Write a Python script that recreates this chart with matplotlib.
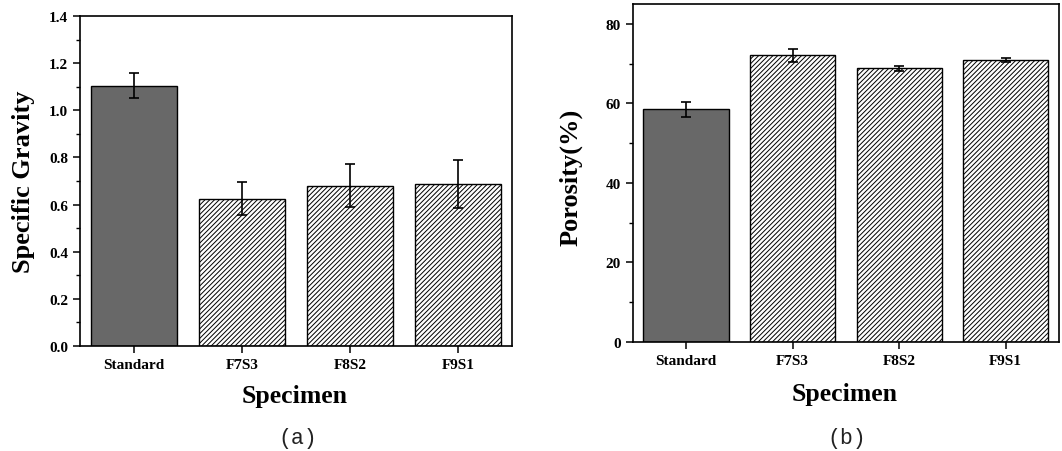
"""
Specific gravity and porosity of the specimens, two bar panels.
"""

import matplotlib

matplotlib.use("Agg")
import matplotlib.pyplot as plt
from matplotlib.ticker import MultipleLocator

specimens = ["Standard", "F7S3", "F8S2", "F9S1"]

gravity = [1.105, 0.624, 0.680, 0.688]
gravity_err = [0.053, 0.070, 0.090, 0.103]

porosity = [58.5, 72.1, 68.8, 70.9]
porosity_err = [1.95, 1.6, 0.6, 0.55]

SERIF = ["Liberation Serif", "DejaVu Serif"]
plt.rcParams["hatch.linewidth"] = 0.7
plt.rcParams["hatch.color"] = "#333333"


def style_ticklabels(ax):
    for lab in ax.get_xticklabels() + ax.get_yticklabels():
        lab.set_fontfamily(SERIF)
        lab.set_fontweight("bold")
        lab.set_fontsize(11)


def draw_panel(ax, values, errors, ylabel, ylim, major, minor):
    for i, (v, e) in enumerate(zip(values, errors)):
        if i == 0:
            ax.bar(i, v, width=0.8, color="#686868", edgecolor="black", linewidth=1.0)
        else:
            ax.bar(i, v, width=0.8, color="white", edgecolor="black",
                   linewidth=1.0, hatch="///////")
        ax.errorbar(i, v, yerr=e, color="black", capsize=3.5, elinewidth=1.2,
                    capthick=1.2, fmt="none")

    ax.set_xlim(-0.5, 3.5)
    ax.set_ylim(*ylim)
    ax.set_xticks(range(len(specimens)))
    ax.set_xticklabels(specimens)
    ax.yaxis.set_major_locator(MultipleLocator(major))
    ax.yaxis.set_minor_locator(MultipleLocator(minor))
    ax.tick_params(axis="both", which="major", direction="out", length=5, width=1.1)
    ax.tick_params(axis="y", which="minor", direction="out", length=3, width=1.0)
    for s in ax.spines.values():
        s.set_linewidth(1.2)

    ax.set_ylabel(ylabel, fontfamily=SERIF, fontweight="bold", fontsize=19)
    ax.set_xlabel("Specimen", fontfamily=SERIF, fontweight="bold", fontsize=18.5)


fig = plt.figure(figsize=(10.62, 4.52), dpi=100)

ax1 = fig.add_axes([0.0753, 0.2323, 0.4068, 0.7301])
draw_panel(ax1, gravity, gravity_err, "Specific Gravity", (0, 1.4), 0.2, 0.1)
ax1.yaxis.set_major_formatter(plt.FormatStrFormatter("%.1f"))
style_ticklabels(ax1)
ax1.yaxis.set_label_coords(-0.104, 0.5)
ax1.xaxis.set_label_coords(0.498, -0.115)

ax2 = fig.add_axes([0.5958, 0.2418, 0.4014, 0.7471])
draw_panel(ax2, porosity, porosity_err, "Porosity(%)", (0, 85), 20, 10)
style_ticklabels(ax2)
ax2.yaxis.set_label_coords(-0.117, 0.49)
ax2.xaxis.set_label_coords(0.498, -0.119)

MONO = ["Liberation Mono", "DejaVu Sans Mono"]
fig.text(0.280, 0.029, "(a)", ha="center", va="center", fontsize=15.5,
         family=MONO, color="#222222")
fig.text(0.797, 0.029, "(b)", ha="center", va="center", fontsize=15.5,
         family=MONO, color="#222222")

fig.savefig("out.png", dpi=100)
